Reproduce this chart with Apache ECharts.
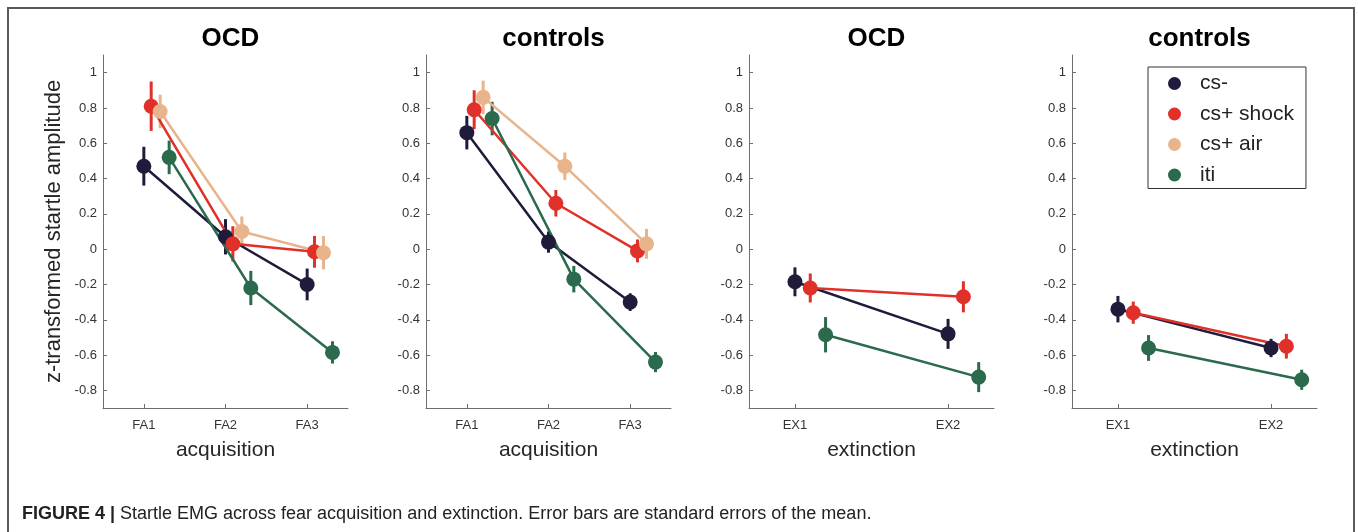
<!DOCTYPE html>
<html>
<head>
<meta charset="utf-8">
<script src="https://cdn.jsdelivr.net/npm/echarts@6/dist/echarts.min.js"></script>
<style>
  html, body { margin: 0; padding: 0; background: #fff; }
  #main { width: 1358px; height: 532px; }
</style>
</head>
<body>
<div id="main"></div>
<script>
const groups = ['cs-', 'cs+ shock', 'cs+ air', 'iti'];
const acqCategories = ['FA1', 'FA2', 'FA3'];
const extCategories = ['EX1', 'EX2'];
const yTicks = [-0.8, -0.6, -0.4, -0.2, 0, 0.2, 0.4, 0.6, 0.8, 1];

// rows follow groups: cs-, cs+ shock, cs+ air, iti
const ocdAcqMeans = [[0.47, 0.07, -0.20], [0.81, 0.03, -0.015], [0.78, 0.10, -0.02], [0.52, -0.22, -0.585]];
const ocdAcqErrs = [[0.11, 0.10, 0.09], [0.14, 0.10, 0.09], [0.095, 0.085, 0.095], [0.095, 0.097, 0.063]];
const ctlAcqMeans = [[0.66, 0.04, -0.30], [0.79, 0.26, -0.01], [0.86, 0.47, 0.03], [0.74, -0.17, -0.64]];
const ctlAcqErrs = [[0.095, 0.06, 0.05], [0.11, 0.075, 0.065], [0.095, 0.078, 0.085], [0.095, 0.075, 0.057]];
const ocdExtMeans = [[-0.185, -0.48], [-0.22, -0.27], null, [-0.485, -0.725]];
const ocdExtErrs = [[0.082, 0.085], [0.082, 0.088], null, [0.10, 0.085]];
const ctlExtMeans = [[-0.34, -0.56], [-0.36, -0.55], null, [-0.56, -0.74]];
const ctlExtErrs = [[0.075, 0.052], [0.063, 0.07], null, [0.073, 0.057]];

const colors = ['#1e1b3b', '#e0302a', '#e8b48c', '#2b6a4c'];
const font = '"Liberation Sans", Arial, Helvetica, sans-serif';

const panels = [
  { title: 'OCD', cats: acqCategories, means: ocdAcqMeans, errs: ocdAcqErrs, xName: 'acquisition', dodge: [0, 0.09, 0.2, 0.31], range: [0.5, 3.5] },
  { title: 'controls', cats: acqCategories, means: ctlAcqMeans, errs: ctlAcqErrs, xName: 'acquisition', dodge: [0, 0.09, 0.2, 0.31], range: [0.5, 3.5] },
  { title: 'OCD', cats: extCategories, means: ocdExtMeans, errs: ocdExtErrs, xName: 'extinction', dodge: [0, 0.1, 0.15, 0.2], range: [0.7, 2.3] },
  { title: 'controls', cats: extCategories, means: ctlExtMeans, errs: ctlExtErrs, xName: 'extinction', dodge: [0, 0.1, 0.15, 0.2], range: [0.7, 2.3] }
];

const gridLefts = [103, 426, 749, 1072];
const gridWidth = 245;

const grid = [];
const xAxis = [];
const yAxis = [];
const title = [];
const series = [];

panels.forEach((panel, p) => {
  grid.push({ left: gridLefts[p], top: 55, width: gridWidth, height: 353 });

  title.push({
    text: panel.title,
    left: gridLefts[p] + gridWidth / 2,
    top: 21,
    textAlign: 'center',
    textStyle: { fontFamily: font, fontSize: 26, fontWeight: 'bold', color: '#000' }
  });

  const tickValues = panel.cats.map((_, i) => i + 1);
  xAxis.push({
    type: 'value',
    gridIndex: p,
    min: panel.range[0],
    max: panel.range[1],
    name: panel.xName,
    nameLocation: 'middle',
    nameGap: 32,
    nameTextStyle: { fontFamily: font, fontSize: 21, color: '#262626' },
    axisLine: { onZero: false, lineStyle: { color: '#6e6e6e', width: 1 } },
    axisTick: { show: true, inside: true, length: 4, customValues: tickValues, lineStyle: { color: '#6e6e6e' } },
    axisLabel: {
      customValues: tickValues,
      formatter: (v) => panel.cats[Math.round(v) - 1],
      fontFamily: font, fontSize: 13, color: '#333', margin: 11
    },
    splitLine: { show: false }
  });

  yAxis.push({
    type: 'value',
    gridIndex: p,
    min: -0.9,
    max: 1.1,
    name: p === 0 ? 'z-transformed startle amplitude' : '',
    nameLocation: 'middle',
    nameGap: 38,
    nameTextStyle: { fontFamily: font, fontSize: 22, color: '#262626' },
    axisLine: { show: true, onZero: false, lineStyle: { color: '#6e6e6e', width: 1 } },
    axisTick: { show: true, inside: true, length: 4, customValues: yTicks, lineStyle: { color: '#6e6e6e' } },
    axisLabel: {
      customValues: yTicks,
      formatter: (v) => String(Math.round(v * 10) / 10),
      fontFamily: font, fontSize: 13, color: '#333', margin: 6
    },
    splitLine: { show: false }
  });

  groups.forEach((name, g) => {
    const means = panel.means[g];
    if (!means) return;
    const errs = panel.errs[g];
    const xs = means.map((_, i) => i + 1 + panel.dodge[g]);

    series.push({
      type: 'custom',
      xAxisIndex: p,
      yAxisIndex: p,
      silent: true,
      data: means.map((m, i) => [xs[i], m - errs[i], m + errs[i]]),
      encode: { x: 0, y: [1, 2] },
      renderItem: (params, api) => {
        const lo = api.coord([api.value(0), api.value(1)]);
        const hi = api.coord([api.value(0), api.value(2)]);
        return {
          type: 'line',
          shape: { x1: lo[0], y1: lo[1], x2: hi[0], y2: hi[1] },
          style: { stroke: colors[g], lineWidth: 3 }
        };
      }
    });

    series.push({
      name,
      type: 'line',
      xAxisIndex: p,
      yAxisIndex: p,
      data: means.map((m, i) => [xs[i], m]),
      symbol: 'circle',
      symbolSize: 15,
      lineStyle: { color: colors[g], width: 2.5 },
      itemStyle: { color: colors[g], borderWidth: 0 },
      emphasis: { disabled: true }
    });
  });
});

const myChart = echarts.init(document.getElementById('main'), null, { renderer: 'canvas' });

myChart.setOption({
  animation: false,
  color: colors,
  title,
  grid,
  xAxis,
  yAxis,
  series,
  legend: {
    data: groups,
    orient: 'vertical',
    left: 1148,
    top: 67,
    padding: [6, 12, 3, 20],
    itemGap: 9.5,
    itemWidth: 13,
    itemHeight: 13,
    icon: 'circle',
    borderColor: '#333',
    borderWidth: 1,
    textStyle: { fontFamily: font, fontSize: 21, lineHeight: 21, color: '#222', padding: [0, 0, 0, 14] }
  },
  graphic: [
    {
      type: 'rect',
      shape: { x: 8, y: 8, width: 1346, height: 600 },
      style: { fill: 'none', stroke: '#5a5a5a', lineWidth: 2 },
      silent: true
    },
    {
      type: 'text',
      left: 22,
      top: 505,
      style: {
        text: '{b|FIGURE 4 |} Startle EMG across fear acquisition and extinction. Error bars are standard errors of the mean.',
        fontFamily: font,
        fontSize: 18,
        fill: '#222',
        rich: { b: { fontFamily: font, fontSize: 18, fontWeight: 'bold', fill: '#222' } }
      }
    }
  ]
});

window.addEventListener('resize', () => myChart.resize());
</script>
</body>
</html>
